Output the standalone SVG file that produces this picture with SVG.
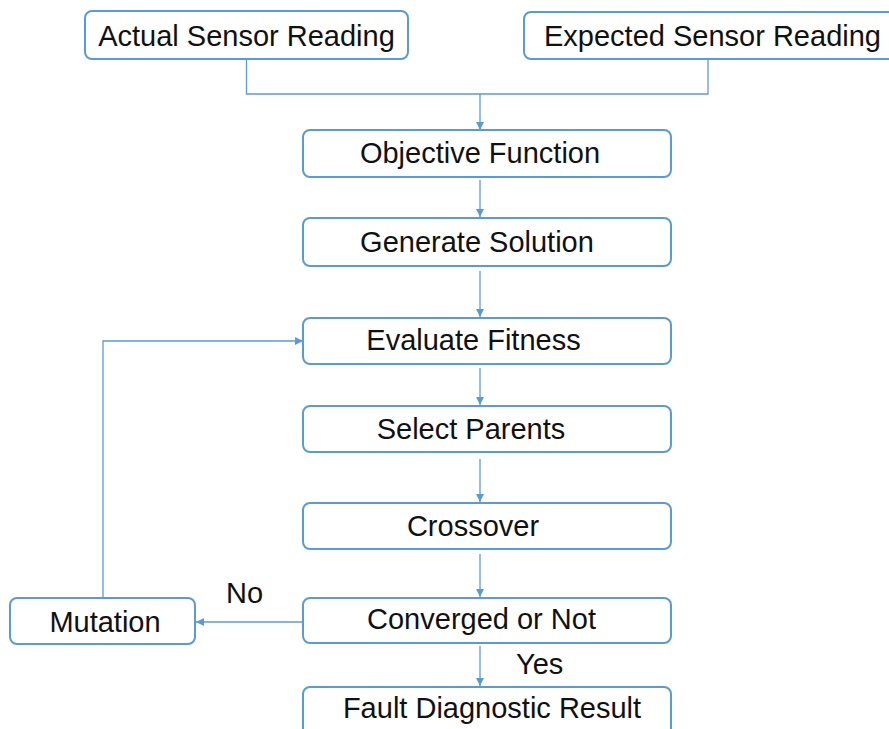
<svg xmlns="http://www.w3.org/2000/svg" width="889" height="729" viewBox="0 0 889 729">
  <style>
    .box { fill: #ffffff; stroke: #5B9BD5; stroke-width: 2; }
    .lbl { font-family: "Liberation Sans", Arial, sans-serif; font-size: 29px; fill: #111111; text-anchor: middle; }
    .tag { font-family: "Liberation Sans", Arial, sans-serif; font-size: 29px; fill: #111111; }
    .wire { fill: none; stroke: #5B9BD5; stroke-width: 1.3; }
    .arr { marker-end: url(#head); }
  </style>
  <defs>
    <marker id="head" viewBox="0 0 10 10" refX="10" refY="5" markerWidth="8" markerHeight="8" markerUnits="userSpaceOnUse" orient="auto">
      <path d="M0,0 L10,5 L0,10 z" fill="#5B9BD5"/>
    </marker>
  </defs>
  <rect width="889" height="729" fill="#ffffff"/>

  <g id="connectors">
    <path class="wire" d="M246.5,59 V94 H708 V59"/>
    <path class="wire arr" d="M480,94 V130"/>
    <path class="wire arr" d="M480,180 V217"/>
    <path class="wire arr" d="M480,271 V317"/>
    <path class="wire arr" d="M480,368 V405"/>
    <path class="wire arr" d="M480,459 V502"/>
    <path class="wire arr" d="M480,554 V597"/>
    <path class="wire arr" d="M480,646 V686"/>
    <path class="wire arr" d="M303,622 H196"/>
    <path class="wire arr" d="M103,598 V341 H303"/>
    <text class="tag" x="226" y="603">No</text>
    <text class="tag" x="516" y="674">Yes</text>
  </g>

  <g id="actual">
    <rect class="box" x="85" y="11" width="323" height="48" rx="7"/>
    <text class="lbl" x="246.5" y="46">Actual Sensor Reading</text>
  </g>
  <g id="expected">
    <rect class="box" x="524" y="12" width="378" height="47" rx="7"/>
    <text class="lbl" x="712.5" y="46">Expected Sensor Reading</text>
  </g>
  <g id="objective">
    <rect class="box" x="303" y="130" width="368" height="47" rx="7"/>
    <text class="lbl" x="480" y="163">Objective Function</text>
  </g>
  <g id="generate">
    <rect class="box" x="303" y="218" width="368" height="48" rx="7"/>
    <text class="lbl" x="477" y="252">Generate Solution</text>
  </g>
  <g id="evaluate">
    <rect class="box" x="303" y="318" width="368" height="46" rx="7"/>
    <text class="lbl" x="473.5" y="350">Evaluate Fitness</text>
  </g>
  <g id="select">
    <rect class="box" x="303" y="406" width="368" height="46" rx="7"/>
    <text class="lbl" x="471" y="439">Select Parents</text>
  </g>
  <g id="crossover">
    <rect class="box" x="303" y="503" width="368" height="46" rx="7"/>
    <text class="lbl" x="473" y="536">Crossover</text>
  </g>
  <g id="converged">
    <rect class="box" x="303" y="598" width="368" height="45" rx="7"/>
    <text class="lbl" x="481.5" y="629">Converged or Not</text>
  </g>
  <g id="mutation">
    <rect class="box" x="10" y="598" width="185" height="46" rx="7"/>
    <text class="lbl" x="105" y="632">Mutation</text>
  </g>
  <g id="fault">
    <rect class="box" x="303" y="687" width="368" height="50" rx="7"/>
    <text class="lbl" x="492" y="718">Fault Diagnostic Result</text>
  </g>
</svg>
